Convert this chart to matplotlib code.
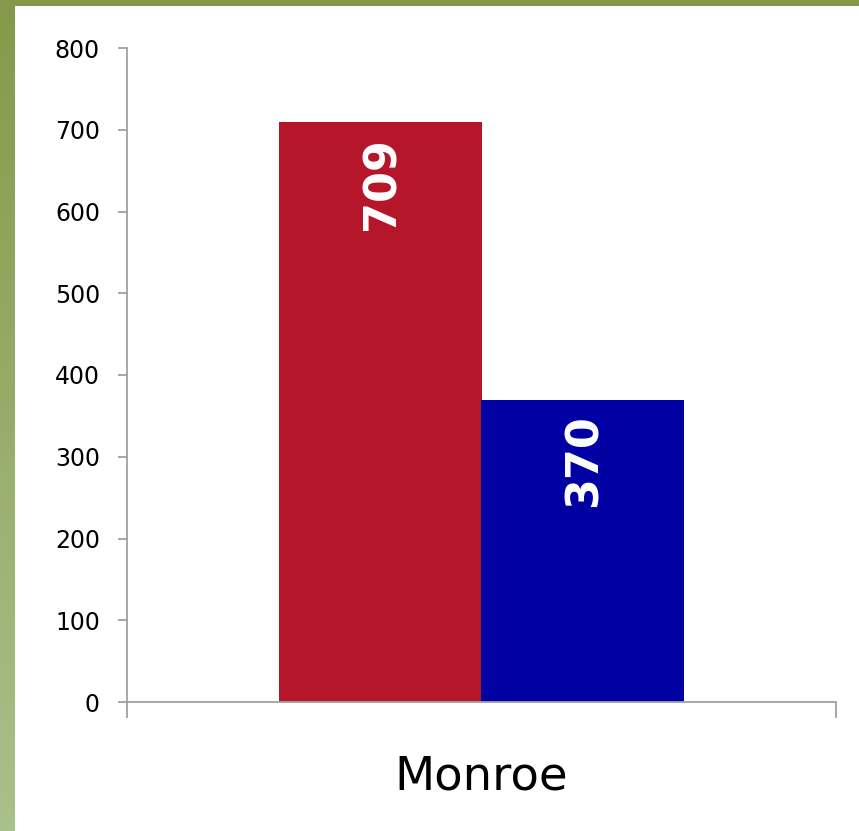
import matplotlib
matplotlib.use("Agg")
import matplotlib.pyplot as plt
import numpy as np
from matplotlib.patches import Rectangle
from matplotlib.colors import LinearSegmentedColormap

# Data
category = "Monroe"
series_values = [709, 370]
series_colors = ["#b5162a", "#0000a3"]
y_ticks = [0, 100, 200, 300, 400, 500, 600, 700, 800]

W, H = 859, 831
fig = plt.figure(figsize=(W / 100, H / 100), dpi=100)
fig.patch.set_facecolor("white")

# Green frame: top strip and left gradient strip
fig.patches.append(Rectangle((0, 1 - 6 / H), 1, 6 / H, transform=fig.transFigure,
                             facecolor="#849a4a", edgecolor="none", zorder=0))
gax = fig.add_axes([0, 0, 15 / W, 1 - 6 / H])
cmap = LinearSegmentedColormap.from_list("g", ["#849a4a", "#a9c18a"])
gax.imshow(np.linspace(0, 1, 256).reshape(-1, 1), aspect="auto", cmap=cmap,
           extent=[0, 1, 0, 1], origin="upper")
gax.set_axis_off()

ax = fig.add_axes([127 / W, 1 - 702 / H, (836 - 127) / W, (702 - 48) / H])
ax.set_facecolor("white")

n = len(series_values)
group_width = 405 / 709
bw = group_width / n
xs = [-group_width / 2 + bw * (i + 0.5) for i in range(n)]
bars = ax.bar(xs, series_values, width=bw, color=series_colors, edgecolor="none", zorder=2)
for x, v in zip(xs, series_values):
    ax.annotate(str(v), xy=(x, v), xytext=(1, -10.5), textcoords="offset points",
                rotation=90, ha="center", va="top", color="white",
                fontsize=32, fontweight="bold", family="DejaVu Sans", zorder=3)

ax.set_xlim(-0.5, 0.5)
ax.set_ylim(0, 800)
ax.set_yticks(y_ticks)
ax.set_yticklabels([str(t) for t in y_ticks], fontsize=17, family="DejaVu Sans")

ax.set_xticks([0])
ax.set_xticklabels([category], fontsize=33.5, family="DejaVu Sans")
ax.set_xticks([-0.5, 0.5], minor=True)
ax.tick_params(axis="x", which="major", length=0, pad=37.5)
ax.tick_params(axis="x", which="minor", length=11.5, width=1.3, color="#a0a0a0", direction="out")
ax.tick_params(axis="y", length=6.5, width=1.3, color="#a0a0a0", direction="out", pad=13)

for s in ["top", "right"]:
    ax.spines[s].set_visible(False)
for s in ["left", "bottom"]:
    ax.spines[s].set_color("#a0a0a0")
    ax.spines[s].set_linewidth(1.3)

fig.savefig("out.png", dpi=100, facecolor="white")
